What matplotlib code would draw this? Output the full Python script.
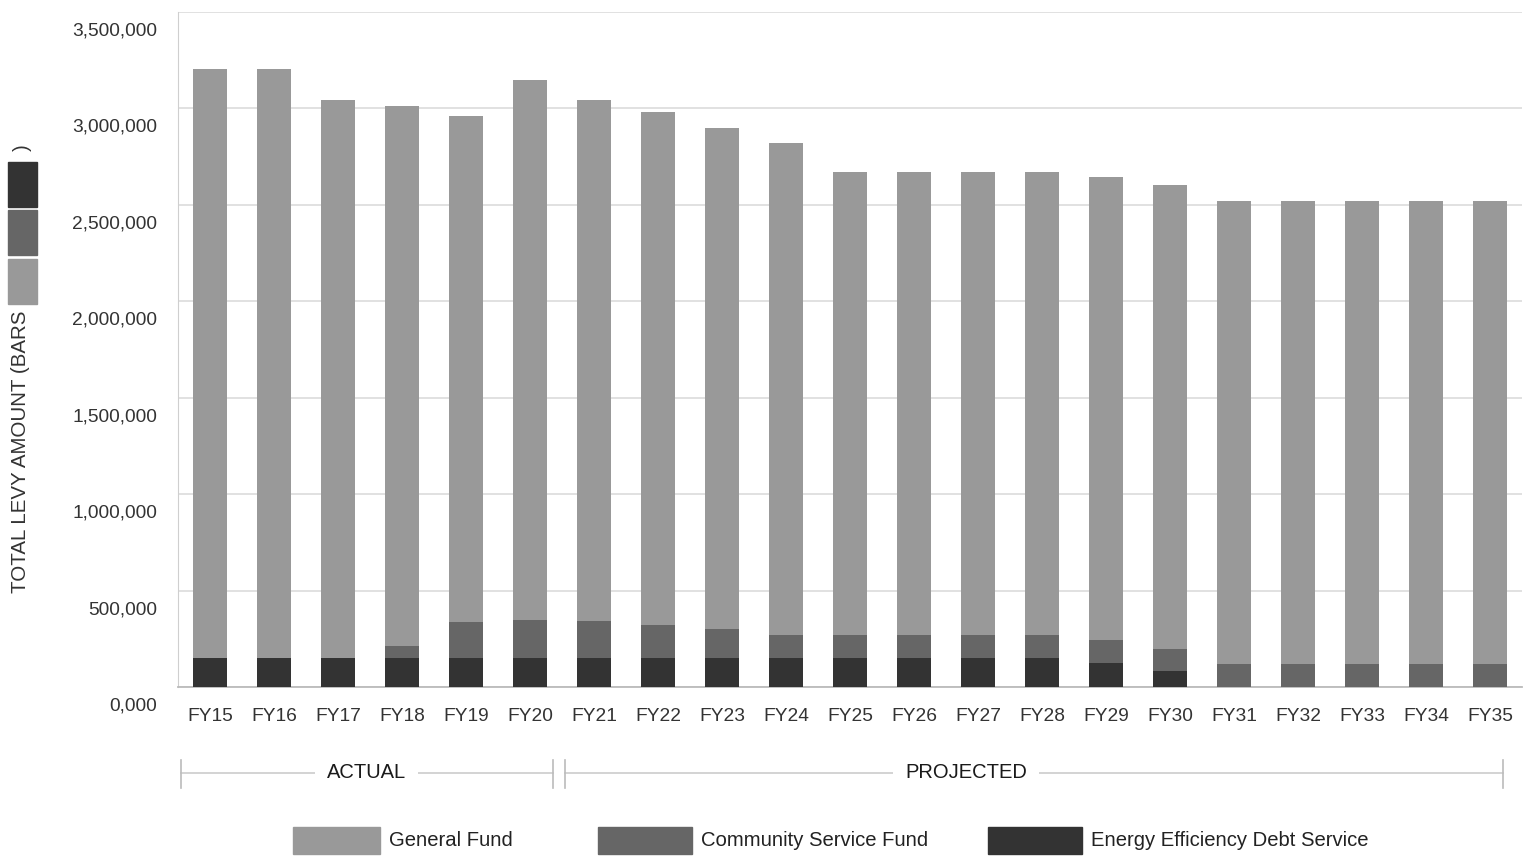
"""Levy amount by fund, FY15-FY35: actual vs projected stacked bars."""

import matplotlib

matplotlib.use("Agg")
import matplotlib.pyplot as plt  # noqa: E402
import matplotlib.transforms as mtransforms  # noqa: E402
from matplotlib.patches import Rectangle  # noqa: E402
from matplotlib.ticker import FuncFormatter  # noqa: E402

plt.rcParams["font.family"] = ["Liberation Sans", "DejaVu Sans"]

# --- data (dollars) ---
anos = ["FY15", "FY16", "FY17", "FY18", "FY19", "FY20", "FY21", "FY22", "FY23",
        "FY24", "FY25", "FY26", "FY27", "FY28", "FY29", "FY30", "FY31", "FY32",
        "FY33", "FY34", "FY35"]
energia = [150_000] * 14 + [127_000, 81_000] + [0] * 5
comunitario = [0, 0, 0, 63_000, 187_000, 200_000, 192_000, 170_000, 149_000,
               118_000, 118_000, 118_000, 118_000, 118_000, 119_000, 118_000,
               121_000, 121_000, 121_000, 121_000, 121_000]
geral = [3_054_000, 3_052_000, 2_893_000, 2_799_000, 2_623_000, 2_797_000,
         2_701_000, 2_661_000, 2_599_000, 2_552_000, 2_401_000, 2_401_000,
         2_401_000, 2_401_000, 2_397_000, 2_403_000, 2_398_000, 2_398_000,
         2_398_000, 2_398_000, 2_398_000]
# (rótulo, início, fim, posição do texto) em coordenadas de categoria
periodos = [("ACTUAL", -0.45, 5.36, 2.45), ("PROJECTED", 5.55, 20.2, 11.81)]

_CLARO = "#999999"
_MEDIO = "#666666"
_ESCURO = "#333333"
_TEXTO = "#333333"
_GRADE = "#dcdcdc"

fig = plt.figure(figsize=(15.24, 8.58), dpi=100)
ax = fig.add_axes((178 / 1524, 171 / 858, 1344 / 1524, 675 / 858))

x = list(range(len(anos)))
base2 = [e + c for e, c in zip(energia, comunitario)]
ax.bar(x, energia, width=0.52, color=_ESCURO, zorder=3)
ax.bar(x, comunitario, width=0.52, bottom=energia, color=_MEDIO, zorder=3)
ax.bar(x, geral, width=0.52, bottom=base2, color=_CLARO, zorder=3)

ax.set_xlim(-0.5, len(anos) - 0.5)
ax.set_ylim(0, 3_500_000)
ax.set_xticks(x, anos)
ax.set_yticks(range(0, 3_500_001, 500_000))
ax.yaxis.set_major_formatter(
    FuncFormatter(lambda v, _: "0,000" if v == 0 else f"{v:,.0f}"))
ax.tick_params(axis="both", length=0, labelsize=13.8, colors=_TEXTO)
ax.tick_params(axis="x", pad=15)
ax.tick_params(axis="y", pad=15)
ax.grid(axis="y", color=_GRADE, linewidth=1.2, zorder=0)
ax.spines[["top", "right"]].set_visible(False)
ax.spines["left"].set_color("#cfcfcf")
ax.spines["bottom"].set_color("#bbbbbb")
ax.spines["bottom"].set_linewidth(1.3)

# rótulos do eixo y ficam um pouco abaixo da linha de grade
desloc = mtransforms.ScaledTranslation(0, -17 / 100, fig.dpi_scale_trans)
for rotulo in ax.get_yticklabels():
    rotulo.set_transform(rotulo.get_transform() + desloc)


def _fig(xp, yp):
    """Converte pixel (origem no canto superior esquerdo) para fração da figura."""
    return xp / 1524, 1 - yp / 858


# --- título do eixo y com as amostras de cor embutidas ---
fig.text(*_fig(21, 593), "TOTAL LEVY AMOUNT (BARS", rotation=90, ha="center",
         va="bottom", fontsize=14.8, color=_TEXTO)
for topo, cor in [(162, _ESCURO), (210, _MEDIO), (259, _CLARO)]:
    fx, fy = _fig(8, topo + 45)
    fig.patches.append(Rectangle((fx, fy), 29 / 1524, 45 / 858, color=cor,
                                 transform=fig.transFigure))
fig.text(*_fig(22, 148), ")", rotation=90, ha="center", va="center",
         fontsize=14.8, color=_TEXTO)

# --- colchetes ACTUAL / PROJECTED abaixo do eixo ---
trans = mtransforms.blended_transform_factory(ax.transData, fig.transFigure)
y_linha = 1 - 773 / 858
y_ini, y_fim = 1 - 760 / 858, 1 - 788 / 858
for nome, x0, x1, xt in periodos:
    ax.plot([x0, x1], [y_linha, y_linha], color="#cccccc", lw=1.2,
            transform=trans, clip_on=False)
    for xv in (x0, x1):
        ax.plot([xv, xv], [y_ini, y_fim], color="#bbbbbb", lw=1.2,
                transform=trans, clip_on=False)
    ax.text(xt, y_linha, nome, transform=trans, ha="center", va="center",
            fontsize=14.5, color="#1a1a1a",
            bbox=dict(boxstyle="square,pad=0.6", fc="white", ec="none"))

# --- legenda ---
itens = [(293, 380, "General Fund", _CLARO),
         (598, 692, "Community Service Fund", _MEDIO),
         (988, 1082, "Energy Efficiency Debt Service", _ESCURO)]
for x0, x1, nome, cor in itens:
    fx, fy = _fig(x0, 854)
    fig.patches.append(Rectangle((fx, fy), (x1 - x0) / 1524, 27 / 858,
                                 color=cor, transform=fig.transFigure))
    fig.text(*_fig(x1 + 9, 841), nome, ha="left", va="center",
             fontsize=14.6, color="#222222")

fig.savefig("out.png", dpi=100)
plt.close(fig)
